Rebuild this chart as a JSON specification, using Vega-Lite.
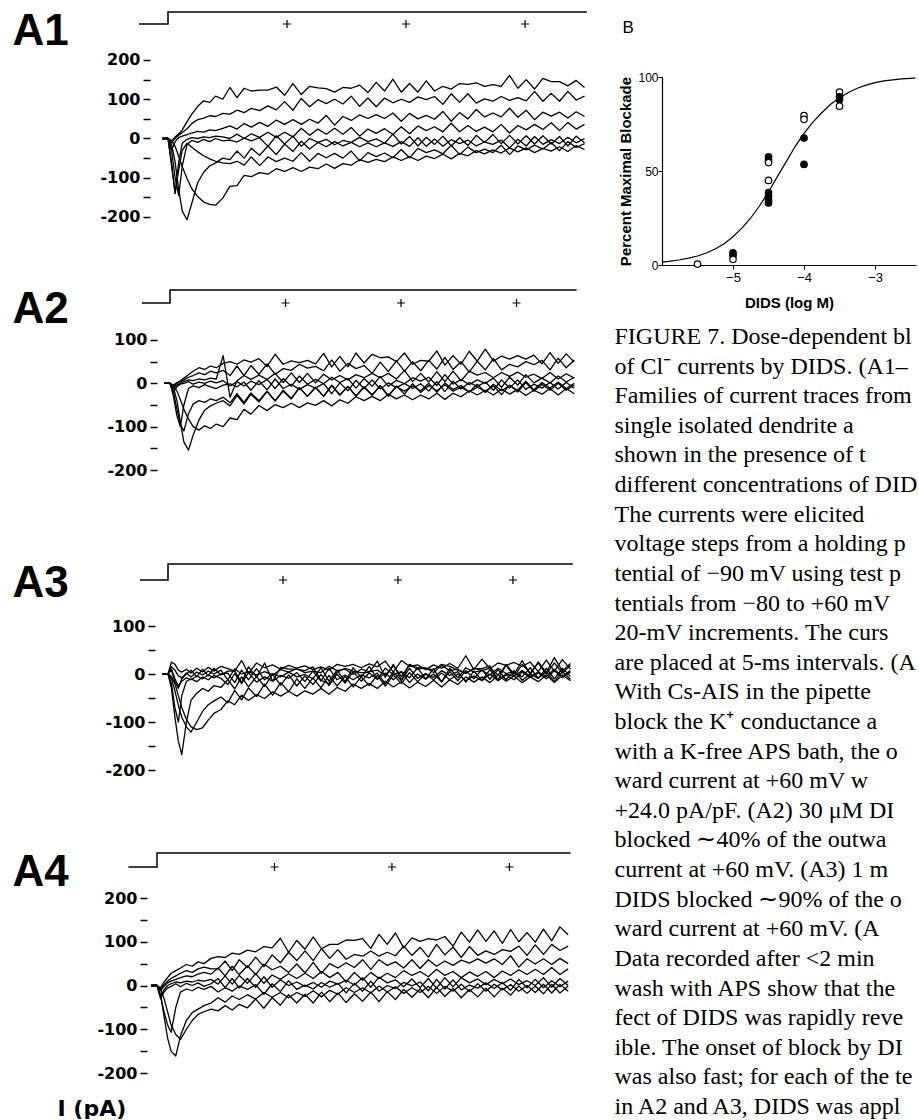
{
"$schema":"https://vega.github.io/schema/vega-lite/v6.json",
"padding":{"left":12,"top":9,"right":0,"bottom":0},
"background":"white",
"config":{"view":{"stroke":null},"axis":{"grid":false,"labelColor":"black","tickColor":"black","domainColor":"black","titleColor":"black"}},
"datasets":{
"proto":[{"t":-1.22,"v":-90,"o":0},{"t":0,"v":-90,"o":1},{"t":0,"v":60,"o":2},{"t":17.6,"v":60,"o":3}],
"cursors":[{"t":5},{"t":10},{"t":15}],
"A1":[
{"t":-0.25,"a":0,"b":0,"c":0,"d":0,"e":0,"f":0,"g":0,"h":0},
{"t":0,"a":0,"b":0,"c":0,"d":0,"e":0,"f":0,"g":0,"h":0},
{"t":0.15,"a":-6,"b":-10,"c":-30,"d":-60,"e":-30,"f":-15,"g":-5,"h":-70},
{"t":0.3,"a":4,"b":0,"c":-8,"d":-140,"e":-100,"f":-60,"g":-20,"h":-140},
{"t":0.45,"a":12,"b":8,"c":2,"d":-60,"e":-145,"f":-130,"g":-45,"h":-80},
{"t":0.6,"a":22,"b":15,"c":6,"d":-12,"e":-70,"f":-185,"g":-72,"h":-30},
{"t":0.8,"a":43,"b":25,"c":10,"d":-2,"e":-15,"f":-207,"g":-102,"h":-12},
{"t":1.0,"a":62,"b":38,"c":14,"d":2,"e":-5,"f":-165,"g":-128,"h":-22},
{"t":1.25,"a":82,"b":48,"c":18,"d":0,"e":-10,"f":-112,"g":-148,"h":-34},
{"t":1.5,"a":96,"b":52,"c":16,"d":4,"e":-2,"f":-86,"g":-162,"h":-44},
{"t":1.75,"a":92,"b":58,"c":22,"d":2,"e":-8,"f":-70,"g":-168,"h":-52},
{"t":2.0,"a":108,"b":56,"c":20,"d":6,"e":0,"f":-62,"g":-170,"h":-58},
{"t":2.3,"a":100,"b":64,"c":26,"d":4,"e":-6,"f":-50,"g":-152,"h":-62},
{"t":2.6,"a":130,"b":62,"c":32,"d":0,"e":-4,"f":-54,"g":-122,"h":-64},
{"t":2.9,"a":104,"b":72,"c":24,"d":11,"e":-9,"f":-32,"g":-120,"h":-58},
{"t":3.2,"a":128,"b":66,"c":38,"d":0,"e":1,"f":-50,"g":-94,"h":-68},
{"t":3.5,"a":121,"b":77,"c":29,"d":12,"e":-6,"f":-25,"g":-97,"h":-47},
{"t":3.85,"a":123,"b":71,"c":41,"d":3,"e":2,"f":-43,"g":-87,"h":-69},
{"t":4.2,"a":123,"b":83,"c":31,"d":16,"e":-20,"f":-19,"g":-91,"h":-47},
{"t":4.55,"a":131,"b":73,"c":47,"d":3,"e":7,"f":-41,"g":-77,"h":-59},
{"t":4.9,"a":110,"b":94,"c":36,"d":16,"e":-14,"f":-14,"g":-84,"h":-50},
{"t":5.25,"a":140,"b":72,"c":48,"d":4,"e":6,"f":-33,"g":-74,"h":-58},
{"t":5.6,"a":112,"b":102,"c":36,"d":26,"e":-20,"f":-7,"g":-84,"h":-36},
{"t":5.95,"a":133,"b":81,"c":49,"d":8,"e":0,"f":-27,"g":-73,"h":-58},
{"t":6.3,"a":129,"b":99,"c":39,"d":24,"e":-10,"f":-10,"g":-77,"h":-38},
{"t":6.65,"a":127,"b":89,"c":59,"d":11,"e":-2,"f":-21,"g":-65,"h":-49},
{"t":7.0,"a":118,"b":100,"c":34,"d":26,"e":-16,"f":-8,"g":-76,"h":-38},
{"t":7.35,"a":130,"b":88,"c":56,"d":11,"e":-5,"f":-19,"g":-64,"h":-50},
{"t":7.7,"a":128,"b":108,"c":46,"d":28,"e":-10,"f":-10,"g":-68,"h":-32},
{"t":8.05,"a":136,"b":82,"c":60,"d":6,"e":3,"f":-21,"g":-54,"h":-57},
{"t":8.4,"a":117,"b":103,"c":51,"d":24,"e":-8,"f":-11,"g":-61,"h":-36},
{"t":8.75,"a":143,"b":81,"c":61,"d":13,"e":-1,"f":-21,"g":-53,"h":-46},
{"t":9.1,"a":121,"b":103,"c":51,"d":25,"e":-12,"f":-11,"g":-59,"h":-37},
{"t":9.45,"a":151,"b":91,"c":65,"d":10,"e":11,"f":-20,"g":-47,"h":-49},
{"t":9.8,"a":118,"b":100,"c":44,"d":30,"e":-14,"f":-8,"g":-56,"h":-28},
{"t":10.15,"a":140,"b":92,"c":64,"d":12,"e":5,"f":-20,"g":-46,"h":-49},
{"t":10.5,"a":118,"b":106,"c":50,"d":32,"e":-19,"f":2,"g":-56,"h":-25},
{"t":10.85,"a":147,"b":99,"c":59,"d":20,"e":3,"f":-20,"g":-45,"h":-36},
{"t":11.2,"a":121,"b":107,"c":49,"d":30,"e":-15,"f":-1,"g":-51,"h":-29},
{"t":11.55,"a":133,"b":87,"c":69,"d":17,"e":6,"f":-20,"g":-40,"h":-39},
{"t":11.9,"a":126,"b":114,"c":44,"d":39,"e":-19,"f":-3,"g":-52,"h":-17},
{"t":12.25,"a":140,"b":92,"c":66,"d":17,"e":2,"f":-13,"g":-38,"h":-41},
{"t":12.6,"a":138,"b":114,"c":50,"d":33,"e":-18,"f":-4,"g":-44,"h":-22},
{"t":12.95,"a":142,"b":90,"c":74,"d":18,"e":8,"f":-19,"g":-31,"h":-36},
{"t":13.3,"a":133,"b":101,"c":55,"d":29,"e":-10,"f":-9,"g":-39,"h":-27},
{"t":13.65,"a":137,"b":95,"c":65,"d":17,"e":10,"f":-15,"g":-29,"h":-36},
{"t":14.0,"a":133,"b":107,"c":55,"d":36,"e":-13,"f":-4,"g":-37,"h":-17},
{"t":14.35,"a":161,"b":97,"c":77,"d":14,"e":8,"f":-24,"g":-24,"h":-41},
{"t":14.7,"a":128,"b":104,"c":54,"d":33,"e":-14,"f":-2,"g":-34,"h":-19},
{"t":15.05,"a":150,"b":96,"c":72,"d":22,"e":7,"f":-19,"g":-24,"h":-29},
{"t":15.4,"a":126,"b":120,"c":48,"d":36,"e":-14,"f":5,"g":-36,"h":-17},
{"t":15.75,"a":153,"b":95,"c":67,"d":23,"e":7,"f":-15,"g":-25,"h":-27},
{"t":16.1,"a":145,"b":115,"c":57,"d":40,"e":-14,"f":-3,"g":-32,"h":-10},
{"t":16.45,"a":145,"b":95,"c":67,"d":20,"e":5,"f":-13,"g":-21,"h":-31},
{"t":16.8,"a":134,"b":120,"c":52,"d":41,"e":-19,"f":3,"g":-33,"h":-8},
{"t":17.15,"a":148,"b":98,"c":68,"d":24,"e":6,"f":-11,"g":-18,"h":-23},
{"t":17.5,"a":130,"b":108,"c":56,"d":36,"e":-11,"f":0,"g":-28,"h":-13}
],
"A2":[
{"t":-0.25,"a":0,"b":0,"c":0,"d":0,"e":0,"f":0,"g":0,"h":0},
{"t":0,"a":0,"b":0,"c":0,"d":0,"e":0,"f":0,"g":0,"h":0},
{"t":0.15,"a":-4,"b":-8,"c":-12,"d":-20,"e":-30,"f":-10,"g":-5,"h":-20},
{"t":0.3,"a":2,"b":0,"c":-4,"d":-8,"e":-75,"f":-40,"g":-18,"h":-60},
{"t":0.45,"a":6,"b":4,"c":0,"d":-2,"e":-100,"f":-90,"g":-38,"h":-95},
{"t":0.6,"a":12,"b":8,"c":4,"d":0,"e":-50,"f":-135,"g":-60,"h":-110},
{"t":0.8,"a":20,"b":14,"c":8,"d":4,"e":-12,"f":-154,"g":-82,"h":-70},
{"t":1.0,"a":28,"b":18,"c":6,"d":-2,"e":-6,"f":-120,"g":-100,"h":-48},
{"t":1.25,"a":36,"b":24,"c":10,"d":3,"e":-10,"f":-85,"g":-108,"h":-40},
{"t":1.5,"a":32,"b":20,"c":8,"d":0,"e":-3,"f":-62,"g":-98,"h":-44},
{"t":1.75,"a":40,"b":28,"c":12,"d":5,"e":-8,"f":-52,"g":-104,"h":-36},
{"t":2.0,"a":36,"b":24,"c":10,"d":1,"e":-12,"f":-46,"g":-94,"h":-40},
{"t":2.3,"a":46,"b":30,"c":64,"d":6,"e":-4,"f":-40,"g":-100,"h":-32},
{"t":2.6,"a":50,"b":18,"c":-32,"d":-6,"e":-1,"f":-52,"g":-80,"h":-45},
{"t":2.9,"a":44,"b":40,"c":6,"d":4,"e":-8,"f":-28,"g":-84,"h":-24},
{"t":3.2,"a":54,"b":18,"c":18,"d":-6,"e":3,"f":-48,"g":-60,"h":-44},
{"t":3.5,"a":49,"b":41,"c":9,"d":5,"e":-16,"f":-25,"g":-71,"h":-22},
{"t":3.85,"a":57,"b":21,"c":19,"d":-3,"e":6,"f":-43,"g":-51,"h":-40},
{"t":4.2,"a":39,"b":45,"c":9,"d":9,"e":-15,"f":-19,"g":-63,"h":-18},
{"t":4.55,"a":67,"b":21,"c":23,"d":-12,"e":10,"f":-41,"g":-49,"h":-40},
{"t":4.9,"a":44,"b":34,"c":2,"d":11,"e":-12,"f":-18,"g":-56,"h":-16},
{"t":5.25,"a":52,"b":30,"c":24,"d":-7,"e":-2,"f":-36,"g":-46,"h":-35},
{"t":5.6,"a":48,"b":44,"c":2,"d":17,"e":-14,"f":-10,"g":-56,"h":-10},
{"t":5.95,"a":53,"b":35,"c":23,"d":-2,"e":-3,"f":-30,"g":-45,"h":-30},
{"t":6.3,"a":45,"b":39,"c":1,"d":9,"e":-11,"f":-9,"g":-51,"h":-9},
{"t":6.65,"a":69,"b":29,"c":21,"d":-1,"e":0,"f":-30,"g":-40,"h":-30},
{"t":7.0,"a":38,"b":54,"c":8,"d":14,"e":-24,"f":-5,"g":-52,"h":-4},
{"t":7.35,"a":62,"b":28,"c":18,"d":2,"e":1,"f":-27,"g":-38,"h":-27},
{"t":7.7,"a":38,"b":46,"c":8,"d":11,"e":-17,"f":-7,"g":-46,"h":-7},
{"t":8.05,"a":70,"b":34,"c":20,"d":-11,"e":7,"f":-30,"g":-31,"h":-29},
{"t":8.4,"a":47,"b":41,"c":13,"d":11,"e":-12,"f":-9,"g":-40,"h":-8},
{"t":8.75,"a":67,"b":23,"c":23,"d":-7,"e":8,"f":-27,"g":-30,"h":-27},
{"t":9.1,"a":59,"b":49,"c":13,"d":16,"e":-13,"f":-6,"g":-40,"h":-5},
{"t":9.45,"a":61,"b":27,"c":23,"d":-7,"e":1,"f":-30,"g":-25,"h":-28},
{"t":9.8,"a":50,"b":52,"c":10,"d":7,"e":-10,"f":-6,"g":-36,"h":-8},
{"t":10.15,"a":70,"b":28,"c":30,"d":-1,"e":0,"f":-25,"g":-27,"h":-18},
{"t":10.5,"a":44,"b":50,"c":4,"d":13,"e":-12,"f":-1,"g":-38,"h":-6},
{"t":10.85,"a":53,"b":29,"c":23,"d":5,"e":-1,"f":-21,"g":-27,"h":-17},
{"t":11.2,"a":51,"b":53,"c":3,"d":14,"e":-18,"f":-5,"g":-36,"h":0},
{"t":11.55,"a":75,"b":33,"c":27,"d":-5,"e":4,"f":-17,"g":-23,"h":-21},
{"t":11.9,"a":42,"b":60,"c":4,"d":20,"e":-19,"f":-3,"g":-37,"h":1},
{"t":12.25,"a":64,"b":32,"c":28,"d":-2,"e":5,"f":-18,"g":-23,"h":-14},
{"t":12.6,"a":44,"b":50,"c":6,"d":9,"e":-13,"f":-9,"g":-31,"h":-5},
{"t":12.95,"a":74,"b":26,"c":28,"d":-3,"e":2,"f":-20,"g":-17,"h":-20},
{"t":13.3,"a":51,"b":51,"c":19,"d":8,"e":-7,"f":-9,"g":-27,"h":-2},
{"t":13.65,"a":79,"b":31,"c":25,"d":0,"e":3,"f":-18,"g":-16,"h":-21},
{"t":14.0,"a":51,"b":57,"c":13,"d":12,"e":-16,"f":-6,"g":-27,"h":-2},
{"t":14.35,"a":63,"b":31,"c":25,"d":-9,"e":8,"f":-26,"g":-13,"h":-17},
{"t":14.7,"a":56,"b":44,"c":16,"d":14,"e":-11,"f":-4,"g":-25,"h":-5},
{"t":15.05,"a":64,"b":38,"c":26,"d":-4,"e":8,"f":-20,"g":-14,"h":-16},
{"t":15.4,"a":56,"b":50,"c":14,"d":20,"e":-14,"f":2,"g":-28,"h":5},
{"t":15.75,"a":65,"b":43,"c":21,"d":1,"e":-2,"f":-18,"g":-16,"h":-15},
{"t":16.1,"a":45,"b":53,"c":11,"d":12,"e":-11,"f":-2,"g":-25,"h":2},
{"t":16.45,"a":71,"b":31,"c":25,"d":1,"e":2,"f":-16,"g":-12,"h":-11},
{"t":16.8,"a":46,"b":58,"c":10,"d":17,"e":-13,"f":0,"g":-27,"h":3},
{"t":17.15,"a":68,"b":36,"c":22,"d":3,"e":2,"f":-16,"g":-12,"h":-12},
{"t":17.5,"a":49,"b":54,"c":12,"d":14,"e":-11,"f":-4,"g":-24,"h":0}
],
"A3":[
{"t":-0.25,"a":0,"b":0,"c":0,"d":0,"e":0,"f":0,"g":0,"h":0},
{"t":0,"a":0,"b":0,"c":0,"d":0,"e":0,"f":0,"g":0,"h":0},
{"t":0.15,"a":25,"b":15,"c":10,"d":-20,"e":-30,"f":-10,"g":-5,"h":8},
{"t":0.3,"a":20,"b":8,"c":-10,"d":-70,"e":-90,"f":-35,"g":-20,"h":-15},
{"t":0.45,"a":8,"b":-4,"c":-25,"d":-100,"e":-140,"f":-65,"g":-45,"h":-30},
{"t":0.6,"a":4,"b":-8,"c":-15,"d":-45,"e":-168,"f":-90,"g":-70,"h":-10},
{"t":0.8,"a":10,"b":2,"c":-8,"d":-15,"e":-100,"f":-110,"g":-95,"h":0},
{"t":1.0,"a":2,"b":-6,"c":-12,"d":-10,"e":-55,"f":-121,"g":-110,"h":8},
{"t":1.25,"a":12,"b":4,"c":-4,"d":-16,"e":-40,"f":-100,"g":-116,"h":-6},
{"t":1.5,"a":4,"b":-2,"c":-10,"d":-6,"e":-30,"f":-78,"g":-112,"h":10},
{"t":1.75,"a":14,"b":6,"c":-2,"d":-12,"e":-36,"f":-64,"g":-96,"h":-4},
{"t":2.0,"a":6,"b":0,"c":-8,"d":-3,"e":-24,"f":-56,"g":-82,"h":12},
{"t":2.3,"a":16,"b":8,"c":0,"d":-9,"e":-28,"f":-48,"g":-74,"h":-2},
{"t":2.6,"a":11,"b":-12,"c":2,"d":-22,"e":-12,"f":-60,"g":-56,"h":6},
{"t":2.9,"a":6,"b":11,"c":-18,"d":1,"e":-31,"f":-34,"g":-64,"h":6},
{"t":3.2,"a":28,"b":0,"c":8,"d":-20,"e":-6,"f":-54,"g":-44,"h":-18},
{"t":3.5,"a":1,"b":5,"c":-12,"d":3,"e":-27,"f":-29,"g":-55,"h":15},
{"t":3.85,"a":23,"b":-2,"c":11,"d":-17,"e":-5,"f":-47,"g":-43,"h":-7},
{"t":4.2,"a":13,"b":5,"c":-12,"d":-6,"e":-26,"f":-21,"g":-51,"h":23},
{"t":4.55,"a":19,"b":-2,"c":1,"d":-15,"e":-1,"f":-44,"g":-37,"h":-15},
{"t":4.9,"a":10,"b":9,"c":-6,"d":-3,"e":-23,"f":-18,"g":-46,"h":14},
{"t":5.25,"a":18,"b":4,"c":4,"d":-9,"e":-2,"f":-37,"g":-36,"h":10},
{"t":5.6,"a":12,"b":11,"c":-6,"d":3,"e":-25,"f":-10,"g":-46,"h":10},
{"t":5.95,"a":17,"b":3,"c":-1,"d":-16,"e":-4,"f":-30,"g":-35,"h":7},
{"t":6.3,"a":9,"b":6,"c":-10,"d":6,"e":-22,"f":-8,"g":-42,"h":15},
{"t":6.65,"a":15,"b":3,"c":13,"d":-15,"e":-1,"f":-29,"g":-30,"h":-13},
{"t":7.0,"a":8,"b":16,"c":-15,"d":12,"e":-24,"f":-3,"g":-42,"h":-20},
{"t":7.35,"a":20,"b":7,"c":8,"d":-12,"e":0,"f":-25,"g":-28,"h":4},
{"t":7.7,"a":16,"b":10,"c":-16,"d":-2,"e":-19,"f":-5,"g":-36,"h":12},
{"t":8.05,"a":20,"b":-1,"c":13,"d":-12,"e":5,"f":-27,"g":-21,"h":6},
{"t":8.4,"a":13,"b":10,"c":-7,"d":-2,"e":-15,"f":-6,"g":-30,"h":3},
{"t":8.75,"a":21,"b":5,"c":16,"d":-8,"e":2,"f":-24,"g":-20,"h":3},
{"t":9.1,"a":15,"b":8,"c":-11,"d":2,"e":-11,"f":-3,"g":-30,"h":27},
{"t":9.45,"a":27,"b":-3,"c":12,"d":-20,"e":2,"f":-25,"g":-15,"h":-7},
{"t":9.8,"a":4,"b":17,"c":-1,"d":4,"e":-12,"f":-2,"g":-27,"h":20},
{"t":10.15,"a":28,"b":-5,"c":5,"d":-14,"e":5,"f":-20,"g":-16,"h":-12},
{"t":10.5,"a":16,"b":19,"c":-8,"d":12,"e":-18,"f":3,"g":-29,"h":20},
{"t":10.85,"a":19,"b":10,"c":13,"d":-9,"e":0,"f":-16,"g":-17,"h":13},
{"t":11.2,"a":9,"b":13,"c":-10,"d":1,"e":-11,"f":0,"g":-26,"h":11},
{"t":11.55,"a":19,"b":3,"c":11,"d":-7,"e":0,"f":-12,"g":-13,"h":9},
{"t":11.9,"a":12,"b":18,"c":-17,"d":7,"e":-16,"f":2,"g":-27,"h":20},
{"t":12.25,"a":22,"b":7,"c":12,"d":-3,"e":5,"f":-12,"g":-12,"h":16},
{"t":12.6,"a":12,"b":10,"c":-8,"d":5,"e":-14,"f":0,"g":-22,"h":8},
{"t":12.95,"a":38,"b":1,"c":13,"d":-17,"e":7,"f":-14,"g":-6,"h":2},
{"t":13.3,"a":9,"b":12,"c":4,"d":6,"e":-10,"f":-4,"g":-17,"h":11},
{"t":13.65,"a":31,"b":7,"c":7,"d":-13,"e":9,"f":-14,"g":-6,"h":11},
{"t":14.0,"a":11,"b":12,"c":-2,"d":9,"e":-11,"f":0,"g":-18,"h":17},
{"t":14.35,"a":23,"b":-2,"c":12,"d":-13,"e":9,"f":-14,"g":-2,"h":-13},
{"t":14.7,"a":18,"b":18,"c":1,"d":0,"e":-12,"f":-2,"g":-15,"h":20},
{"t":15.05,"a":24,"b":-5,"c":5,"d":-5,"e":7,"f":-12,"g":-4,"h":0},
{"t":15.4,"a":16,"b":20,"c":-6,"d":7,"e":-13,"f":4,"g":-18,"h":28},
{"t":15.75,"a":25,"b":2,"c":13,"d":-5,"e":0,"f":-7,"g":-6,"h":-1},
{"t":16.1,"a":5,"b":23,"c":-9,"d":4,"e":-9,"f":2,"g":-16,"h":25},
{"t":16.45,"a":29,"b":-1,"c":12,"d":-5,"e":5,"f":-10,"g":-2,"h":3},
{"t":16.8,"a":6,"b":23,"c":-10,"d":10,"e":-16,"f":7,"g":-18,"h":34},
{"t":17.15,"a":30,"b":2,"c":12,"d":-5,"e":5,"f":-8,"g":-2,"h":6},
{"t":17.5,"a":10,"b":18,"c":-5,"d":7,"e":-11,"f":4,"g":-14,"h":22}
],
"A4":[
{"t":-0.25,"a":0,"b":0,"c":0,"d":0,"e":0,"f":0,"g":0,"h":0},
{"t":0,"a":0,"b":0,"c":0,"d":0,"e":0,"f":0,"g":0,"h":0},
{"t":0.15,"a":-5,"b":-8,"c":-12,"d":-25,"e":-30,"f":-25,"g":-20,"h":-8},
{"t":0.3,"a":8,"b":2,"c":-2,"d":-10,"e":-15,"f":-60,"g":-70,"h":-30},
{"t":0.45,"a":18,"b":10,"c":6,"d":0,"e":-6,"f":-90,"g":-120,"h":-60},
{"t":0.6,"a":28,"b":16,"c":10,"d":4,"e":-2,"f":-107,"g":-150,"h":-90},
{"t":0.8,"a":34,"b":22,"c":14,"d":8,"e":4,"f":-50,"g":-161,"h":-112},
{"t":1.0,"a":40,"b":28,"c":18,"d":6,"e":-3,"f":-15,"g":-115,"h":-123},
{"t":1.25,"a":48,"b":34,"c":22,"d":10,"e":5,"f":-8,"g":-80,"h":-100},
{"t":1.5,"a":44,"b":30,"c":20,"d":8,"e":0,"f":-12,"g":-62,"h":-80},
{"t":1.75,"a":54,"b":38,"c":26,"d":12,"e":6,"f":-4,"g":-54,"h":-66},
{"t":2.0,"a":50,"b":42,"c":30,"d":10,"e":-2,"f":-9,"g":-46,"h":-60},
{"t":2.3,"a":62,"b":38,"c":26,"d":14,"e":4,"f":-2,"g":-40,"h":-54},
{"t":2.6,"a":66,"b":38,"c":40,"d":3,"e":16,"f":-15,"g":-28,"h":-58},
{"t":2.9,"a":64,"b":56,"c":22,"d":22,"e":-5,"f":-5,"g":-38,"h":-46},
{"t":3.2,"a":74,"b":34,"c":44,"d":3,"e":16,"f":-13,"g":-24,"h":-56},
{"t":3.5,"a":71,"b":59,"c":25,"d":23,"e":-6,"f":-1,"g":-32,"h":-43},
{"t":3.85,"a":81,"b":41,"c":45,"d":5,"e":16,"f":-9,"g":-21,"h":-51},
{"t":4.2,"a":77,"b":65,"c":25,"d":27,"e":-4,"f":2,"g":-31,"h":-31},
{"t":4.55,"a":89,"b":43,"c":49,"d":5,"e":20,"f":-20,"g":-16,"h":-52},
{"t":4.9,"a":86,"b":70,"c":36,"d":24,"e":-4,"f":4,"g":-27,"h":-28},
{"t":5.25,"a":108,"b":52,"c":44,"d":14,"e":13,"f":-14,"g":-16,"h":-45},
{"t":5.6,"a":76,"b":76,"c":30,"d":27,"e":0,"f":11,"g":-28,"h":-21},
{"t":5.95,"a":103,"b":57,"c":49,"d":16,"e":8,"f":-9,"g":-16,"h":-40},
{"t":6.3,"a":83,"b":79,"c":29,"d":28,"e":-2,"f":1,"g":-25,"h":-20},
{"t":6.65,"a":111,"b":57,"c":53,"d":16,"e":7,"f":-8,"g":-12,"h":-40},
{"t":7.0,"a":84,"b":84,"c":28,"d":32,"e":-4,"f":7,"g":-26,"h":-15},
{"t":7.35,"a":94,"b":62,"c":50,"d":18,"e":10,"f":-4,"g":-11,"h":-37},
{"t":7.7,"a":94,"b":82,"c":40,"d":30,"e":3,"f":5,"g":-20,"h":-17},
{"t":8.05,"a":104,"b":60,"c":52,"d":8,"e":12,"f":-17,"g":-5,"h":-39},
{"t":8.4,"a":103,"b":71,"c":41,"d":30,"e":1,"f":5,"g":-16,"h":-19},
{"t":8.75,"a":107,"b":67,"c":59,"d":12,"e":18,"f":-13,"g":-5,"h":-36},
{"t":9.1,"a":85,"b":79,"c":37,"d":30,"e":-4,"f":10,"g":-17,"h":-15},
{"t":9.45,"a":117,"b":67,"c":59,"d":16,"e":19,"f":-13,"g":-1,"h":-37},
{"t":9.8,"a":94,"b":76,"c":46,"d":28,"e":6,"f":0,"g":-15,"h":-14},
{"t":10.15,"a":120,"b":68,"c":54,"d":18,"e":13,"f":-7,"g":-3,"h":-32},
{"t":10.5,"a":86,"b":90,"c":40,"d":34,"e":-3,"f":7,"g":-18,"h":-9},
{"t":10.85,"a":109,"b":69,"c":59,"d":23,"e":15,"f":-1,"g":-5,"h":-27},
{"t":11.2,"a":101,"b":87,"c":39,"d":32,"e":-5,"f":8,"g":-16,"h":-8},
{"t":11.55,"a":107,"b":65,"c":59,"d":20,"e":16,"f":-12,"g":-2,"h":-28},
{"t":11.9,"a":104,"b":94,"c":44,"d":37,"e":-6,"f":14,"g":-18,"h":-4},
{"t":12.25,"a":112,"b":70,"c":56,"d":23,"e":18,"f":-8,"g":-2,"h":-25},
{"t":12.6,"a":90,"b":88,"c":46,"d":32,"e":-3,"f":13,"g":-13,"h":-7},
{"t":12.95,"a":122,"b":64,"c":58,"d":18,"e":18,"f":-10,"g":3,"h":-28},
{"t":13.3,"a":99,"b":89,"c":51,"d":31,"e":6,"f":1,"g":-14,"h":-9},
{"t":13.65,"a":127,"b":69,"c":61,"d":21,"e":15,"f":-6,"g":4,"h":-26},
{"t":14.0,"a":101,"b":79,"c":51,"d":32,"e":2,"f":6,"g":-13,"h":-6},
{"t":14.35,"a":125,"b":71,"c":61,"d":18,"e":14,"f":-7,"g":3,"h":-26},
{"t":14.7,"a":96,"b":82,"c":48,"d":33,"e":4,"f":7,"g":-10,"h":-6},
{"t":15.05,"a":128,"b":78,"c":68,"d":23,"e":15,"f":-11,"g":2,"h":-22},
{"t":15.4,"a":100,"b":90,"c":42,"d":36,"e":2,"f":14,"g":-13,"h":-1},
{"t":15.75,"a":121,"b":69,"c":61,"d":25,"e":11,"f":-5,"g":0,"h":-18},
{"t":16.1,"a":99,"b":93,"c":49,"d":37,"e":0,"f":14,"g":-16,"h":-1},
{"t":16.45,"a":129,"b":71,"c":61,"d":25,"e":18,"f":-5,"g":3,"h":-19},
{"t":16.8,"a":102,"b":94,"c":48,"d":41,"e":-4,"f":11,"g":-17,"h":3},
{"t":17.15,"a":134,"b":80,"c":62,"d":25,"e":16,"f":-3,"g":3,"h":-17},
{"t":17.5,"a":116,"b":90,"c":50,"d":38,"e":0,"f":10,"g":-13,"h":-1}
],
"fit":[
{"logc":-6,"pct":1.5},{"logc":-5.875,"pct":2.1},{"logc":-5.75,"pct":2.8},{"logc":-5.625,"pct":3.7},{"logc":-5.5,"pct":4.8},{"logc":-5.375,"pct":6.4},{"logc":-5.25,"pct":8.5},{"logc":-5.125,"pct":11.3},{"logc":-5,"pct":15},{"logc":-4.875,"pct":19.6},{"logc":-4.75,"pct":25},{"logc":-4.625,"pct":31.5},{"logc":-4.5,"pct":39},{"logc":-4.375,"pct":47},{"logc":-4.25,"pct":55},{"logc":-4.125,"pct":63},{"logc":-4,"pct":70},{"logc":-3.875,"pct":76},{"logc":-3.75,"pct":81},{"logc":-3.625,"pct":85.5},{"logc":-3.5,"pct":89},{"logc":-3.375,"pct":91.8},{"logc":-3.25,"pct":94},{"logc":-3.125,"pct":95.7},{"logc":-3,"pct":97},{"logc":-2.875,"pct":97.9},{"logc":-2.75,"pct":98.5},{"logc":-2.625,"pct":99},{"logc":-2.5,"pct":99.3},{"logc":-2.43,"pct":99.5}
],
"dose":[
{"logc":-5.5,"pct":0.5,"kind":"open"},
{"logc":-5,"pct":6.5,"kind":"filled"},{"logc":-5,"pct":5,"kind":"filled"},{"logc":-5,"pct":3,"kind":"open"},
{"logc":-4.5,"pct":57.5,"kind":"filled"},{"logc":-4.5,"pct":56,"kind":"filled"},{"logc":-4.5,"pct":54.5,"kind":"open"},{"logc":-4.5,"pct":45,"kind":"open"},{"logc":-4.5,"pct":38.5,"kind":"filled"},{"logc":-4.5,"pct":36.5,"kind":"filled"},{"logc":-4.5,"pct":34.5,"kind":"filled"},{"logc":-4.5,"pct":33,"kind":"filled"},
{"logc":-4,"pct":79.5,"kind":"open"},{"logc":-4,"pct":77.5,"kind":"open"},{"logc":-4,"pct":67.5,"kind":"filled"},{"logc":-4,"pct":53.5,"kind":"filled"},
{"logc":-3.5,"pct":92,"kind":"open"},{"logc":-3.5,"pct":89.5,"kind":"filled"},{"logc":-3.5,"pct":88,"kind":"filled"},{"logc":-3.5,"pct":84.5,"kind":"open"}
],
"caption":[
{"n":0,"line":"FIGURE 7. Dose-dependent blo"},
{"n":1,"line":"of Cl⁻ currents by DIDS. (A1–"},
{"n":2,"line":"Families of current traces from"},
{"n":3,"line":"single isolated dendrite a"},
{"n":4,"line":"shown in the presence of t"},
{"n":5,"line":"different concentrations of DID"},
{"n":6,"line":"The currents were elicited"},
{"n":7,"line":"voltage steps from a holding p"},
{"n":8,"line":"tential of −90 mV using test p"},
{"n":9,"line":"tentials from −80 to +60 mV"},
{"n":10,"line":"20-mV increments. The curs"},
{"n":11,"line":"are placed at 5-ms intervals. (A"},
{"n":12,"line":"With Cs-AIS in the pipette"},
{"n":13,"line":"block the K⁺ conductance a"},
{"n":14,"line":"with a K-free APS bath, the o"},
{"n":15,"line":"ward current at +60 mV w"},
{"n":16,"line":"+24.0 pA/pF. (A2) 30 μM DI"},
{"n":17,"line":"blocked ∼40% of the outwa"},
{"n":18,"line":"current at +60 mV. (A3) 1 m"},
{"n":19,"line":"DIDS blocked ∼90% of the o"},
{"n":20,"line":"ward current at +60 mV. (A"},
{"n":21,"line":"Data recorded after <2 min"},
{"n":22,"line":"wash with APS show that the"},
{"n":23,"line":"fect of DIDS was rapidly reve"},
{"n":24,"line":"ible. The onset of block by DI"},
{"n":25,"line":"was also fast; for each of the te"},
{"n":26,"line":"in A2 and A3, DIDS was appl"}
]
},
"hconcat":[
{"vconcat":[
{"width":440,"height":265,
 "layer":[
  {"data":{"name":"A1"},"transform":[{"fold":["a","b","c","d","e","f","g","h"],"as":["trace","i"]}],
   "mark":{"type":"line","color":"black","strokeWidth":1.3,"strokeJoin":"round"},
   "encoding":{
    "x":{"field":"t","type":"quantitative","axis":null,"scale":{"domain":[-0.756,17.73],"nice":false,"zero":false}},
    "y":{"field":"i","type":"quantitative","scale":{"domain":[-352.87,322.29],"nice":false,"zero":false},
         "axis":{"values":[-200,-150,-100,-50,0,50,100,150,200],"labelExpr":"datum.value % 100 == 0 ? '' + datum.value : ''","domain":false,"tickSize":7,"tickWidth":1.5,"labelFont":"DejaVu Sans","labelFontWeight":"bold","labelFontSize":16,"labelPadding":3,"labelOverlap":false,"title":null,"offset":0}},
    "detail":{"field":"trace","type":"nominal"}}},
  {"layer":[
    {"data":{"name":"proto"},"mark":{"type":"line","color":"black","strokeWidth":1.5},
     "encoding":{"x":{"field":"t","type":"quantitative","axis":null,"scale":{"domain":[-0.756,17.73],"nice":false,"zero":false}},
                 "y":{"field":"v","type":"quantitative","scale":{"domain":[-90,60],"range":[12,0],"nice":false,"zero":false},
                      "axis":{"orient":"left","domain":false,"ticks":false,"labels":false,"grid":false,"title":"A1","titleX":-138,"titleY":-3,"titleAngle":0,"titleAlign":"left","titleBaseline":"top","titleFont":"Liberation Sans","titleFontSize":44,"titleFontWeight":"bold"}},
                 "order":{"field":"o","type":"quantitative"}}},
    {"data":{"name":"cursors"},"mark":{"type":"point","shape":"M-1,0L1,0M0,-1L0,1","size":64,"filled":false,"stroke":"black","strokeWidth":1.2,"opacity":1},
     "encoding":{"x":{"field":"t","type":"quantitative","axis":null,"scale":{"domain":[-0.756,17.73],"nice":false,"zero":false}},
                 "y":{"datum":-90,"type":"quantitative"}}}
  ]}
 ],
 "resolve":{"scale":{"y":"independent"},"axis":{"y":"independent"}}
},
{"width":440,"height":261,
 "layer":[
  {"data":{"name":"A2"},"transform":[{"fold":["a","b","c","d","e","f","g","h"],"as":["trace","i"]}],
   "mark":{"type":"line","color":"black","strokeWidth":1.3,"strokeJoin":"round"},
   "encoding":{
    "x":{"field":"t","type":"quantitative","axis":null,"scale":{"domain":[-0.866,18.18],"nice":false,"zero":false}},
    "y":{"field":"i","type":"quantitative","scale":{"domain":[-386.92,215.38],"nice":false,"zero":false},
         "axis":{"values":[-200,-150,-100,-50,0,50,100],"labelExpr":"datum.value % 100 == 0 ? '' + datum.value : ''","domain":false,"tickSize":7,"tickWidth":1.5,"labelFont":"DejaVu Sans","labelFontWeight":"bold","labelFontSize":16,"labelPadding":3,"labelOverlap":false,"title":null,"offset":-7}},
    "detail":{"field":"trace","type":"nominal"}}},
  {"layer":[
    {"data":{"name":"proto"},"mark":{"type":"line","color":"black","strokeWidth":1.5},
     "encoding":{"x":{"field":"t","type":"quantitative","axis":null,"scale":{"domain":[-0.866,18.18],"nice":false,"zero":false}},
                 "y":{"field":"v","type":"quantitative","scale":{"domain":[-90,60],"range":[13,0],"nice":false,"zero":false},
                      "axis":{"orient":"left","domain":false,"ticks":false,"labels":false,"grid":false,"title":"A2","titleX":-138,"titleY":-3,"titleAngle":0,"titleAlign":"left","titleBaseline":"top","titleFont":"Liberation Sans","titleFontSize":44,"titleFontWeight":"bold"}},
                 "order":{"field":"o","type":"quantitative"}}},
    {"data":{"name":"cursors"},"mark":{"type":"point","shape":"M-1,0L1,0M0,-1L0,1","size":64,"filled":false,"stroke":"black","strokeWidth":1.2,"opacity":1},
     "encoding":{"x":{"field":"t","type":"quantitative","axis":null,"scale":{"domain":[-0.866,18.18],"nice":false,"zero":false}},
                 "y":{"datum":-90,"type":"quantitative"}}}
  ]}
 ],
 "resolve":{"scale":{"y":"independent"},"axis":{"y":"independent"}}
},
{"width":440,"height":276,
 "layer":[
  {"data":{"name":"A3"},"transform":[{"fold":["a","b","c","d","e","f","g","h"],"as":["trace","i"]}],
   "mark":{"type":"line","color":"black","strokeWidth":1.3,"strokeJoin":"round"},
   "encoding":{
    "x":{"field":"t","type":"quantitative","axis":null,"scale":{"domain":[-0.783,18.35],"nice":false,"zero":false}},
    "y":{"field":"i","type":"quantitative","scale":{"domain":[-345.83,229.17],"nice":false,"zero":false},
         "axis":{"values":[-200,-150,-100,-50,0,50,100],"labelExpr":"datum.value % 100 == 0 ? '' + datum.value : ''","domain":false,"tickSize":7,"tickWidth":1.5,"labelFont":"DejaVu Sans","labelFontWeight":"bold","labelFontSize":16,"labelPadding":3,"labelOverlap":false,"title":null,"offset":-5}},
    "detail":{"field":"trace","type":"nominal"}}},
  {"layer":[
    {"data":{"name":"proto"},"mark":{"type":"line","color":"black","strokeWidth":1.5},
     "encoding":{"x":{"field":"t","type":"quantitative","axis":null,"scale":{"domain":[-0.783,18.35],"nice":false,"zero":false}},
                 "y":{"field":"v","type":"quantitative","scale":{"domain":[-90,60],"range":[16,0],"nice":false,"zero":false},
                      "axis":{"orient":"left","domain":false,"ticks":false,"labels":false,"grid":false,"title":"A3","titleX":-138,"titleY":-3,"titleAngle":0,"titleAlign":"left","titleBaseline":"top","titleFont":"Liberation Sans","titleFontSize":44,"titleFontWeight":"bold"}},
                 "order":{"field":"o","type":"quantitative"}}},
    {"data":{"name":"cursors"},"mark":{"type":"point","shape":"M-1,0L1,0M0,-1L0,1","size":64,"filled":false,"stroke":"black","strokeWidth":1.2,"opacity":1},
     "encoding":{"x":{"field":"t","type":"quantitative","axis":null,"scale":{"domain":[-0.783,18.35],"nice":false,"zero":false}},
                 "y":{"datum":-90,"type":"quantitative"}}}
  ]}
 ],
 "resolve":{"scale":{"y":"independent"},"axis":{"y":"independent"}}
},
{"width":440,"height":227,
 "layer":[
  {"data":{"name":"A4"},"transform":[{"fold":["a","b","c","d","e","f","g","h"],"as":["trace","i"]}],
   "mark":{"type":"line","color":"black","strokeWidth":1.3,"strokeJoin":"round"},
   "encoding":{
    "x":{"field":"t","type":"quantitative","axis":null,"scale":{"domain":[-0.298,18.43],"nice":false,"zero":false}},
    "y":{"field":"i","type":"quantitative","scale":{"domain":[-216,302.86],"nice":false,"zero":false},
         "axis":{"values":[-200,-150,-100,-50,0,50,100,150,200],"labelExpr":"datum.value % 100 == 0 ? '' + datum.value : ''","domain":false,"tickSize":7,"tickWidth":1.5,"labelFont":"DejaVu Sans","labelFontWeight":"bold","labelFontSize":16,"labelPadding":3,"labelOverlap":false,"offset":3,
                 "title":"I (pA)","titleAngle":0,"titleAlign":"left","titleBaseline":"alphabetic","titleX":-90,"titleY":262,"titleFont":"DejaVu Sans","titleFontWeight":"bold","titleFontSize":22}},
    "detail":{"field":"trace","type":"nominal"}}},
  {"layer":[
    {"data":{"name":"proto"},"mark":{"type":"line","color":"black","strokeWidth":1.5},
     "encoding":{"x":{"field":"t","type":"quantitative","axis":null,"scale":{"domain":[-0.298,18.43],"nice":false,"zero":false}},
                 "y":{"field":"v","type":"quantitative","scale":{"domain":[-90,60],"range":[14,0],"nice":false,"zero":false},
                      "axis":{"orient":"left","domain":false,"ticks":false,"labels":false,"grid":false,"title":"A4","titleX":-138,"titleY":-3,"titleAngle":0,"titleAlign":"left","titleBaseline":"top","titleFont":"Liberation Sans","titleFontSize":44,"titleFontWeight":"bold"}},
                 "order":{"field":"o","type":"quantitative"}}},
    {"data":{"name":"cursors"},"mark":{"type":"point","shape":"M-1,0L1,0M0,-1L0,1","size":64,"filled":false,"stroke":"black","strokeWidth":1.2,"opacity":1},
     "encoding":{"x":{"field":"t","type":"quantitative","axis":null,"scale":{"domain":[-0.298,18.43],"nice":false,"zero":false}},
                 "y":{"datum":-90,"type":"quantitative"}}}
  ]}
 ],
 "resolve":{"scale":{"y":"independent"},"axis":{"y":"independent"}}
}
],"spacing":10},
{"vconcat":[
{"width":254,"height":253,
 "layer":[
  {"data":{"name":"fit"},"mark":{"type":"line","color":"black","strokeWidth":1.2},
   "encoding":{
    "x":{"field":"logc","type":"quantitative","scale":{"domain":[-6,-2.423],"nice":false,"zero":false},
         "axis":{"values":[-5,-4,-3],"format":"d","title":"DIDS (log M)","titleFont":"Liberation Sans","titleFontWeight":"bold","titleFontSize":15,"titlePadding":11,"labelFont":"Liberation Sans","labelFontSize":13,"labelPadding":2,"tickSize":4,"domainWidth":1.2}},
    "y":{"field":"pct","type":"quantitative","scale":{"domain":[0,100],"range":[253,65],"nice":false,"zero":false},
         "axis":{"orient":"left","values":[0,50,100],"title":"Percent Maximal Blockade","titleX":-32,"titleY":159,"titleAngle":-90,"titleAlign":"center","titleBaseline":"alphabetic","titleFont":"Liberation Sans","titleFontWeight":"bold","titleFontSize":15,"labelFont":"Liberation Sans","labelFontSize":12,"labelPadding":0,"tickSize":4,"domainWidth":1.2}}}},
  {"data":{"name":"dose"},"mark":{"type":"point","filled":true,"size":42,"stroke":"black","strokeWidth":1.2,"opacity":1},
   "encoding":{
    "x":{"field":"logc","type":"quantitative"},
    "y":{"field":"pct","type":"quantitative","scale":{"domain":[0,100],"range":[253,65],"nice":false,"zero":false},
         "axis":{"orient":"left","domain":false,"ticks":false,"labels":false,"grid":false,"title":"B","titleX":-40,"titleY":7,"titleAngle":0,"titleAlign":"left","titleBaseline":"top","titleFont":"Liberation Sans","titleFontSize":17,"titleFontWeight":"normal"}},
    "fill":{"field":"kind","type":"nominal","scale":{"domain":["open","filled"],"range":["white","black"]},"legend":null}}}
 ],
 "resolve":{"scale":{"y":"independent"},"axis":{"y":"independent"}}
},
{"width":1,"height":770,
 "data":{"name":"caption"},
 "mark":{"type":"text","align":"left","baseline":"middle","font":"Liberation Serif","fontSize":24,"color":"black","limit":303,"ellipsis":"\u200b","dx":-48},
 "encoding":{
  "y":{"field":"n","type":"ordinal","axis":null,"scale":{"padding":0}},
  "text":{"field":"line","type":"nominal"}}
}
],"spacing":15}
],
"spacing":24
}
